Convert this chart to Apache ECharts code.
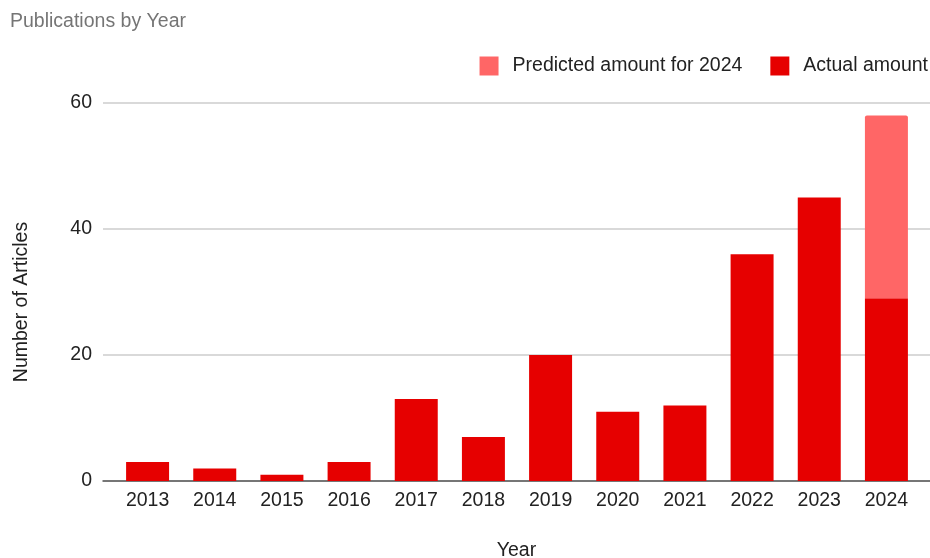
<!DOCTYPE html>
<html>
<head>
<meta charset="utf-8">
<script src="https://cdn.jsdelivr.net/npm/echarts@6/dist/echarts.min.js"></script>
<style>
  html, body { margin: 0; padding: 0; background: #fff; }
  #chart { width: 930px; height: 558px; }
</style>
</head>
<body>
<div id="chart"></div>
<script>
// Publication counts per year
const years = ['2013', '2014', '2015', '2016', '2017', '2018', '2019', '2020', '2021', '2022', '2023', '2024'];
const actualAmount = [3, 2, 1, 3, 13, 7, 20, 11, 12, 36, 45, 29];
// Expected additional articles for the rest of 2024, stacked on the actual count
const predictedExtra = ['-', '-', '-', '-', '-', '-', '-', '-', '-', '-', '-', 29];
const yTicks = [0, 20, 40, 60];

const FONT = '"Liberation Sans", Arial, sans-serif';
const FS = 19.5;
const yMin = yTicks[0];
const yMax = yTicks[yTicks.length - 1];
const yStep = yTicks[1] - yTicks[0];

const chart = echarts.init(document.getElementById('chart'), null, { renderer: 'canvas' });

chart.setOption({
  backgroundColor: '#ffffff',
  animation: false,
  textStyle: { fontFamily: FONT },
  title: {
    text: 'Publications by Year',
    left: 10,
    top: 12,
    padding: 0,
    textStyle: { fontFamily: FONT, fontSize: FS, fontWeight: 'normal', color: '#757575' }
  },
  legend: {
    data: ['Predicted amount for 2024', 'Actual amount'],
    right: 2,
    top: 56,
    padding: 0,
    itemWidth: 19,
    itemHeight: 19,
    itemGap: 28,
    icon: 'rect',
    textStyle: { fontFamily: FONT, fontSize: FS, color: '#222222', padding: [0, 0, 0, 9] }
  },
  grid: [
    // frame grid: gridlines, value labels and baseline
    { left: 103, right: 0, top: 103, bottom: 77, outerBoundsMode: 'none', containLabel: false },
    // bar grid
    { left: 114, right: 10, top: 103, bottom: 77, outerBoundsMode: 'none', containLabel: false }
  ],
  xAxis: [
    {
      gridIndex: 0,
      type: 'category',
      data: years,
      name: 'Year',
      nameLocation: 'middle',
      nameGap: 60,
      nameTextStyle: { fontFamily: FONT, fontSize: FS, color: '#222222' },
      axisLine: { show: true, lineStyle: { color: '#555555', width: 1.5 } },
      axisTick: { show: false },
      axisLabel: { show: false }
    },
    {
      gridIndex: 1,
      type: 'category',
      data: years,
      axisLine: { show: false },
      axisTick: { show: false },
      axisLabel: { fontFamily: FONT, fontSize: FS, color: '#222222', margin: 10 }
    }
  ],
  yAxis: [
    {
      gridIndex: 0,
      type: 'value',
      min: yMin,
      max: yMax,
      interval: yStep,
      name: 'Number of Articles',
      nameLocation: 'middle',
      nameGap: 71,
      nameTextStyle: { fontFamily: FONT, fontSize: FS, color: '#222222', padding: [0, 20, 0, 0] },
      axisLine: { show: false },
      axisTick: { show: false },
      axisLabel: { fontFamily: FONT, fontSize: FS, color: '#222222', margin: 11 },
      splitLine: { show: true, lineStyle: { color: '#cccccc', width: 1.5 } }
    },
    {
      gridIndex: 1,
      type: 'value',
      min: yMin,
      max: yMax,
      interval: yStep,
      show: false,
      splitLine: { show: false }
    }
  ],
  series: [
    {
      name: 'Actual amount',
      type: 'bar',
      xAxisIndex: 1,
      yAxisIndex: 1,
      stack: 'total',
      data: actualAmount,
      barWidth: '64%',
      itemStyle: { color: '#e60000' }
    },
    {
      name: 'Predicted amount for 2024',
      type: 'bar',
      xAxisIndex: 1,
      yAxisIndex: 1,
      stack: 'total',
      data: predictedExtra,
      barWidth: '64%',
      itemStyle: { color: '#ff6666', borderRadius: [2, 2, 0, 0] }
    }
  ]
});
</script>
</body>
</html>
